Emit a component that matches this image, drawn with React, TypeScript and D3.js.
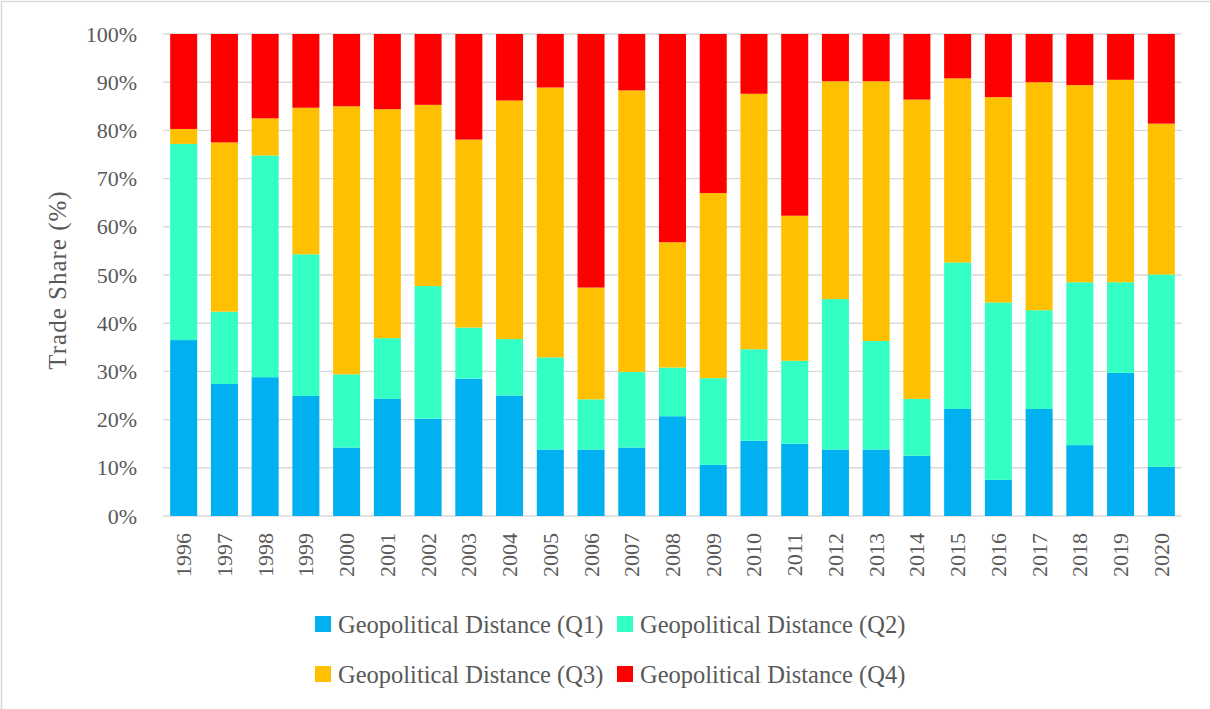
import React from "react";
import * as d3 from "d3";

const years = [
  "1996", "1997", "1998", "1999", "2000", "2001", "2002", "2003", "2004", "2005",
  "2006", "2007", "2008", "2009", "2010", "2011", "2012", "2013", "2014", "2015",
  "2016", "2017", "2018", "2019", "2020",
];
const q1 = [36.5, 27.4, 28.8, 24.9, 14.2, 24.3, 20.2, 28.5, 25.0, 13.8, 13.8, 14.2, 20.7, 10.6, 15.6, 15.0, 13.8, 13.8, 12.5, 22.2, 7.5, 22.2, 14.7, 29.7, 10.2];
const q2 = [40.7, 15.0, 46.0, 29.4, 15.2, 12.6, 27.5, 10.6, 11.7, 19.1, 10.4, 15.7, 10.1, 18.0, 19.0, 17.2, 31.2, 22.5, 11.8, 30.4, 36.8, 20.5, 33.8, 18.8, 39.9];
const q3 = [3.1, 35.1, 7.7, 30.4, 55.6, 47.5, 37.6, 39.0, 49.5, 56.0, 23.2, 58.4, 26.0, 38.4, 53.0, 30.1, 45.2, 53.9, 62.1, 38.2, 42.6, 47.3, 40.9, 42.0, 31.3];
const q4 = [19.7, 22.5, 17.5, 15.3, 15.0, 15.6, 14.7, 21.9, 13.8, 11.1, 52.6, 11.7, 43.2, 33.0, 12.4, 37.7, 9.8, 9.8, 13.6, 9.2, 13.1, 10.0, 10.6, 9.5, 18.6];
const seriesNames = [
  "Geopolitical Distance (Q1)",
  "Geopolitical Distance (Q2)",
  "Geopolitical Distance (Q3)",
  "Geopolitical Distance (Q4)",
];
const seriesColors = ["#00B0F0", "#33FFC4", "#FFC000", "#FF0000"];
const yTicks = [0, 10, 20, 30, 40, 50, 60, 70, 80, 90, 100];
const yTitle = "Trade Share (%)";

const W = 1210;
const H = 709;
const FONT = "'Liberation Serif', 'Times New Roman', serif";
const TEXT = "#595959";

export default function App() {
  const keys = ["q1", "q2", "q3", "q4"];
  const table = years.map((y, i) => ({ year: y, q1: q1[i], q2: q2[i], q3: q3[i], q4: q4[i] }));
  const stacked = d3.stack<any>().keys(keys).offset(d3.stackOffsetExpand)(table);

  const x = d3.scaleBand<string>().domain(years).range([163.3, 1181.7]).paddingInner(0.337).paddingOuter(0.169);
  const y = d3.scaleLinear().domain([0, 1]).range([516, 34]);

  const legendItems = [
    { i: 0, x: 315, y: 624 },
    { i: 1, x: 617, y: 624 },
    { i: 2, x: 315, y: 674 },
    { i: 3, x: 617, y: 674 },
  ];

  return (
    <svg
      width={W}
      height={H}
      style={{ position: "absolute", left: 0, top: 0, background: "#fff" }}
      fontFamily={FONT}
    >
      <rect x={1.5} y={1.5} width={W + 20} height={H + 20} fill="#fff" stroke="#d9d9d9" strokeWidth={1.5} />
      {yTicks.map((t) => (
        <g key={t}>
          <line x1={163.3} x2={1181.7} y1={y(t / 100)} y2={y(t / 100)} stroke="#d9d9d9" strokeWidth={1.4} />
          <text x={137} y={y(t / 100)} textAnchor="end" dominantBaseline="central" fontSize={22} fill={TEXT}>
            {t}%
          </text>
        </g>
      ))}
      {stacked.map((s, si) => (
        <g key={si} fill={seriesColors[si]}>
          {s.map((d, di) => (
            <rect
              key={di}
              x={x(years[di])}
              width={x.bandwidth()}
              y={y(d[1])}
              height={y(d[0]) - y(d[1])}
            />
          ))}
        </g>
      ))}
      {years.map((yr) => {
        const cx = (x(yr) as number) + x.bandwidth() / 2;
        return (
          <text
            key={yr}
            transform={`translate(${cx},533) rotate(-90)`}
            textAnchor="end"
            dominantBaseline="central"
            fontSize={22}
            fill={TEXT}
          >
            {yr}
          </text>
        );
      })}
      <text
        transform={`translate(57,280) rotate(-90)`}
        textAnchor="middle"
        dominantBaseline="central"
        fontSize={25}
        letterSpacing={1}
        fill={TEXT}
      >
        {yTitle}
      </text>
      {legendItems.map((l) => (
        <g key={l.i}>
          <rect x={l.x} y={l.y - 8} width={16} height={16} fill={seriesColors[l.i]} />
          <text x={l.x + 23} y={l.y} dominantBaseline="central" fontSize={24.5} fill={TEXT}>
            {seriesNames[l.i]}
          </text>
        </g>
      ))}
    </svg>
  );
}
